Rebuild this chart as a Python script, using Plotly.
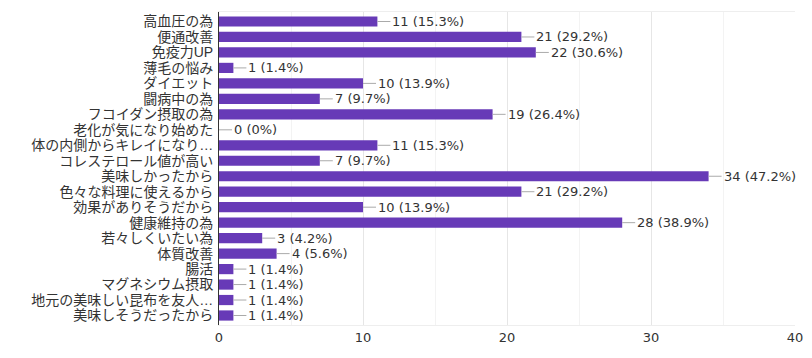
import plotly.graph_objects as go

categories = ["高血圧の為", "便通改善", "免疫力UP", "薄毛の悩み", "ダイエット", "闘病中の為",
              "フコイダン摂取の為", "老化が気になり始めた", "体の内側からキレイになり…",
              "コレステロール値が高い", "美味しかったから", "色々な料理に使えるから",
              "効果がありそうだから", "健康維持の為", "若々しくいたい為", "体質改善",
              "腸活", "マグネシウム摂取", "地元の美味しい昆布を友人…", "美味しそうだったから"]
counts = [11, 21, 22, 1, 10, 7, 19, 0, 11, 7, 34, 21, 10, 28, 3, 4, 1, 1, 1, 1]
percents = ["15.3%", "29.2%", "30.6%", "1.4%", "13.9%", "9.7%", "26.4%", "0%", "15.3%",
            "9.7%", "47.2%", "29.2%", "13.9%", "38.9%", "4.2%", "5.6%", "1.4%", "1.4%",
            "1.4%", "1.4%"]
x_ticks = [0, 10, 20, 30, 40]

CJK = "Liberation Sans, Noto Sans CJK JP, sans-serif"
LAT = "DejaVu Sans, Noto Sans CJK JP, sans-serif"
TEXT = "#333333"

fig = go.Figure(go.Bar(
    y=categories, x=counts, orientation="h",
    marker=dict(color="#673AB7", line=dict(width=0)),
    width=0.66, hoverinfo="skip",
))

for c, n, p in zip(categories, counts, percents):
    fig.add_annotation(
        x=n, y=c, xref="x", yref="y",
        text=f"{n} ({p})", showarrow=True, arrowhead=0, arrowwidth=1,
        arrowcolor="#aaaaaa", ax=13, ay=0, xanchor="left", yanchor="middle",
        font=dict(family=LAT, size=13, color=TEXT), standoff=0, startstandoff=0,
    )

# page body has an 8px margin: size the figure so the plot area lands where the reference has it
fig.update_layout(
    width=804, height=350,
    margin=dict(l=211, r=17, t=4, b=33, autoexpand=False),
    paper_bgcolor="white", plot_bgcolor="white",
    showlegend=False, bargap=0.34,
    font=dict(family=LAT, size=13, color=TEXT),
)
fig.update_xaxes(
    range=[0, 40], tickvals=x_ticks, ticktext=[str(t) for t in x_ticks],
    showgrid=True, gridcolor="#e6e6e6", gridwidth=1,
    minor=dict(dtick=5, showgrid=True, gridcolor="#f3f3f3", gridwidth=1),
    zeroline=False, showline=True, linecolor="#eeeeee", mirror=True,
    tickfont=dict(family=LAT, size=13, color=TEXT), ticks="", ticklabelstandoff=0,
    automargin=False, fixedrange=True,
)
fig.update_yaxes(
    autorange="reversed", showgrid=False, zeroline=False,
    tickmode="array", tickvals=categories, ticktext=categories,
    showline=True, linecolor="#333333", linewidth=1,
    tickfont=dict(family=CJK, size=14, color=TEXT), ticks="", ticklabelstandoff=2,
    automargin=False, fixedrange=True,
)

fig.write_html("out.html")
